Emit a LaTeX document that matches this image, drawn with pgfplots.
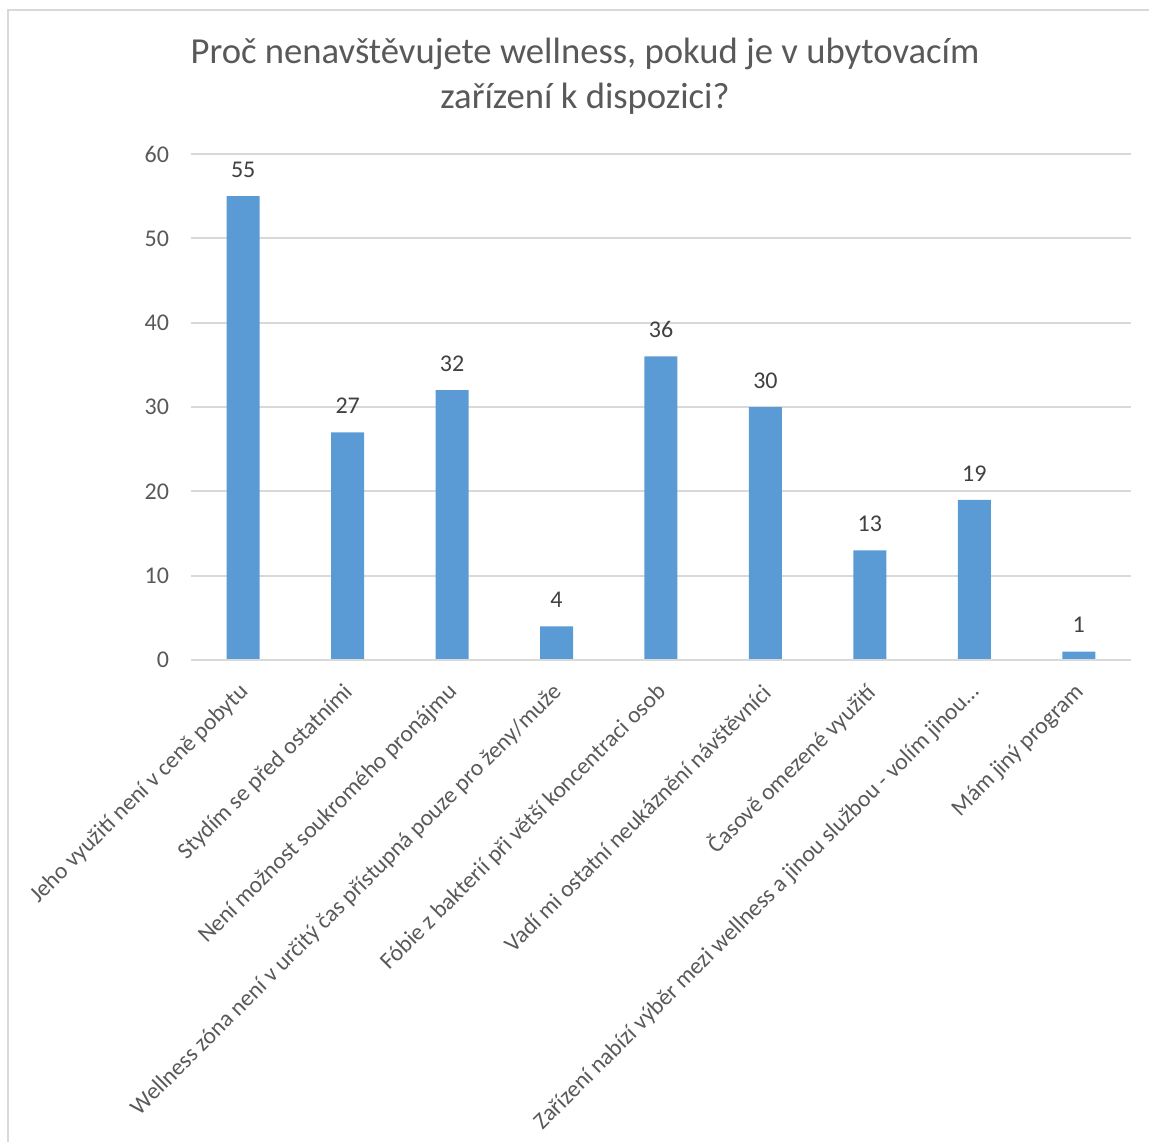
\documentclass[border=0pt]{standalone}
\usepackage{fontspec}
\setmainfont{Carlito}
\usepackage{pgfplots}
\pgfplotsset{compat=1.18}
\usetikzlibrary{calc}

\definecolor{barblue}{HTML}{5B9BD5}
\definecolor{gridgray}{HTML}{D9D9D9}
\definecolor{labelgray}{HTML}{595959}
\definecolor{valgray}{HTML}{404040}

\begin{document}
\begin{tikzpicture}[x=0.75pt, y=0.75pt]
  \begin{axis}[
    scale only axis,
    width=705pt, height=379.5pt,
    xmin=-0.5, xmax=8.5,
    ymin=0, ymax=60,
    ytick={0,10,...,60},
    xtick=data,
    xticklabels={
      Jeho využití není v ceně pobytu,
      Stydím se před ostatními,
      Není možnost soukromého pronájmu,
      Wellness zóna není v určitý čas přístupná pouze pro ženy/muže,
      Fóbie z bakterií při větší koncentraci osob,
      Vadí mi ostatní neukáznění návštěvníci,
      Časově omezené využití,
      Zařízení nabízí výběr mezi wellness a jinou službou - volím jinou…,
      Mám jiný program},
    axis line style={draw=none},
    major tick length=0pt,
    ymajorgrids,
    grid style={gridgray, line width=1.5pt},
    /pgf/number format/assume math mode=true,
    tick label style={text=labelgray},
    yticklabel style={anchor=east, xshift=-13pt, font=\fontsize{18}{21}\selectfont},
    xticklabel style={rotate=45, anchor=east, xshift=-11pt, yshift=-16pt,
      font=\fontsize{17.6}{21}\selectfont},
    ybar,
    bar width=24.75pt,
    nodes near coords,
    every node near coord/.append style={text=valgray,
      font=\fontsize{18}{21}\selectfont, anchor=base, yshift=14pt},
  ]
    \addplot[fill=barblue, draw=none] coordinates {
      (0,55) (1,27) (2,32) (3,4) (4,36) (5,30) (6,13) (7,19) (8,1)};
    \draw[gridgray, line width=1.5pt] (axis cs:-0.5,0) -- (axis cs:8.5,0);
    \coordinate (O) at (rel axis cs:0,0);
  \end{axis}

  % page area, frame and title, laid out around the plot corner
  \begin{scope}[shift={($(O)+(-191,-482)$)}]
    \pgfresetboundingbox
    \useasboundingbox (0,0) rectangle (1149,1142);
    \draw[gridgray, line width=1.5pt] (8,0) -- (8,1132) -- (1149,1132);
    \node[align=center, text=labelgray, font=\fontsize{27.5}{34}\selectfont]
      at (585,1066) {Proč nenavštěvujete wellness, pokud je v ubytovacím\\zařízení k dispozici?};
  \end{scope}
\end{tikzpicture}
\end{document}
